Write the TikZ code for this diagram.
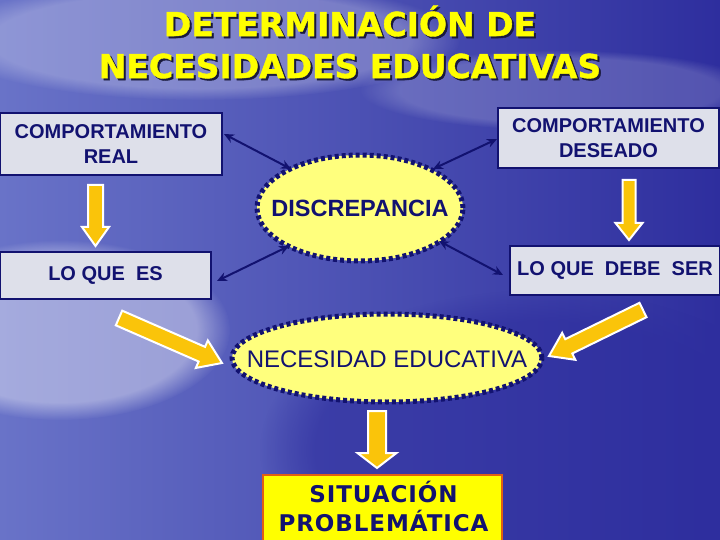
\documentclass[tikz,border=0pt]{standalone}
\usepackage{fontspec}
\setmainfont{Liberation Sans}
\newfontfamily\titlefont{DejaVu Sans Bold}[FakeBold=1.2]
\newfontfamily\sitfont{DejaVu Sans Bold}[LetterSpace=4]
\usetikzlibrary{calc,arrows.meta,shapes.geometric,fadings}
\definecolor{navy}{RGB}{18,18,112}
\definecolor{bgblue}{RGB}{46,46,158}
\definecolor{bglight}{RGB}{105,115,200}
\definecolor{boxgray}{RGB}{222,224,234}
\definecolor{ellyellow}{RGB}{255,255,125}
\definecolor{arrowyellow}{RGB}{250,196,10}
\definecolor{titleyellow}{RGB}{255,255,0}
\definecolor{sitborder}{RGB}{225,95,20}
\definecolor{shadowc}{RGB}{25,25,60}
\tikzset{
  graybox/.style={draw=navy, line width=2.5pt, fill=boxgray, text=navy, font=\bfseries\fontsize{20}{25}\selectfont, align=center, inner sep=0pt},
  dotell/.style={ellipse, draw=navy, line width=5pt, dash pattern=on 4pt off 3pt, fill=ellyellow, inner sep=0pt},
  elltext/.style={text=navy, inner sep=0pt},
  fatarrowstyle/.style={fill=arrowyellow, draw=white, line width=2pt, line join=miter},
  dbl/.style={draw=navy, line width=2pt, {Stealth[length=10pt,width=9pt]}-{Stealth[length=10pt,width=9pt]}},
  titletext/.style={font=\titlefont\fontsize{33}{42}\selectfont, align=center},
}
\newcommand\fatarrow[5]{%
  \coordinate (fa-c) at ($(#2)!#5!(#1)$);
  \draw[fatarrowstyle] ($(#1)!#3!90:(#2)$) -- ($(fa-c)!#3!90:(#2)$) -- ($(fa-c)!#4!90:(#2)$) -- (#2) -- ($(fa-c)!#4!-90:(#2)$) -- ($(fa-c)!#3!-90:(#2)$) -- ($(#1)!#3!-90:(#2)$) -- cycle;
}
\begin{document}
\begin{tikzpicture}[x=1pt,y=-1pt]
\useasboundingbox (0,0) rectangle (720,540);
% background
\shade[left color=bglight, right color=bgblue] (0,0) rectangle (720,540);
\fill[white, opacity=0.4, path fading=circle with fuzzy edge 20 percent] (60,330) ellipse (170 and 90);
\fill[white, opacity=0.25, path fading=circle with fuzzy edge 20 percent] (200,40) ellipse (260 and 60);
\fill[white, opacity=0.18, path fading=circle with fuzzy edge 20 percent] (560,90) ellipse (200 and 40);
\fill[bgblue, opacity=0.6, path fading=circle with fuzzy edge 20 percent] (540,450) ellipse (280 and 160);

% title
\node[titletext, text=shadowc] (titleshadow) at (352,44) {DETERMINACIÓN DE\\NECESIDADES EDUCATIVAS};
\node[titletext, text=titleyellow] (title) at (350,42) {DETERMINACIÓN DE\\NECESIDADES EDUCATIVAS};

% boxes
\node[graybox, minimum width=222pt, minimum height=62pt] (cr) at (111,144) {COMPORTAMIENTO\\REAL};
\node[graybox, minimum width=221pt, minimum height=60pt] (cd) at (608.5,138) {COMPORTAMIENTO\\DESEADO};
\node[graybox, minimum width=211pt, minimum height=47pt] (le) at (105.5,275.5) {LO QUE\ \ ES};
\node[graybox, minimum width=210pt, minimum height=49pt] (ld) at (615,270.5) {LO QUE\ \ DEBE\ \ SER};

% ellipses
\node[dotell, minimum width=206pt, minimum height=106pt] (disc) at (360,208) {};
\node[elltext, font=\bfseries\fontsize{23.5}{26}\selectfont] (disctext) at (360,208) {DISCREPANCIA};
\node[dotell, minimum width=310pt, minimum height=88pt] (nec) at (387,358) {};
\node[elltext, font=\fontsize{24}{26}\selectfont] (nectext) at (387,359) {NECESIDAD EDUCATIVA};

% situacion
\node[draw=sitborder, line width=1.5pt, fill=titleyellow, minimum width=239pt, minimum height=80pt, anchor=north] (sitbox) at (382.5,474) {};
\node[text=navy, font=\sitfont\fontsize{23}{29}\selectfont, align=center] (sit) at (383.5,506.5) {SITUACIÓN\\PROBLEMÁTICA};

% double arrows
\coordinate (d1a) at (224,134);
\coordinate (d1b) at (291,169);
\coordinate (d2a) at (497,139);
\coordinate (d2b) at (433,169);
\coordinate (d3a) at (289,246);
\coordinate (d3b) at (217,281);
\coordinate (d4a) at (439,241);
\coordinate (d4b) at (503,275);
\draw[dbl] (d1a) -- (d1b);
\draw[dbl] (d2a) -- (d2b);
\draw[dbl] (d3a) -- (d3b);
\draw[dbl] (d4a) -- (d4b);

% fat arrows
\coordinate (f1a) at (95.5,185);
\coordinate (f1b) at (95.5,246);
\coordinate (f2a) at (629,180);
\coordinate (f2b) at (629,240);
\coordinate (f3a) at (119,318);
\coordinate (f3b) at (222,363);
\coordinate (f4a) at (643,310);
\coordinate (f4b) at (549,356);
\coordinate (f5a) at (377,411);
\coordinate (f5b) at (377,468);
\fatarrow{f1a}{f1b}{7.5pt}{13.5pt}{19pt}
\fatarrow{f2a}{f2b}{6.5pt}{13.5pt}{17pt}
\fatarrow{f3a}{f3b}{8pt}{15pt}{22pt}
\fatarrow{f4a}{f4b}{8pt}{15pt}{22pt}
\fatarrow{f5a}{f5b}{9pt}{19.5pt}{15pt}
\end{tikzpicture}
\end{document}
